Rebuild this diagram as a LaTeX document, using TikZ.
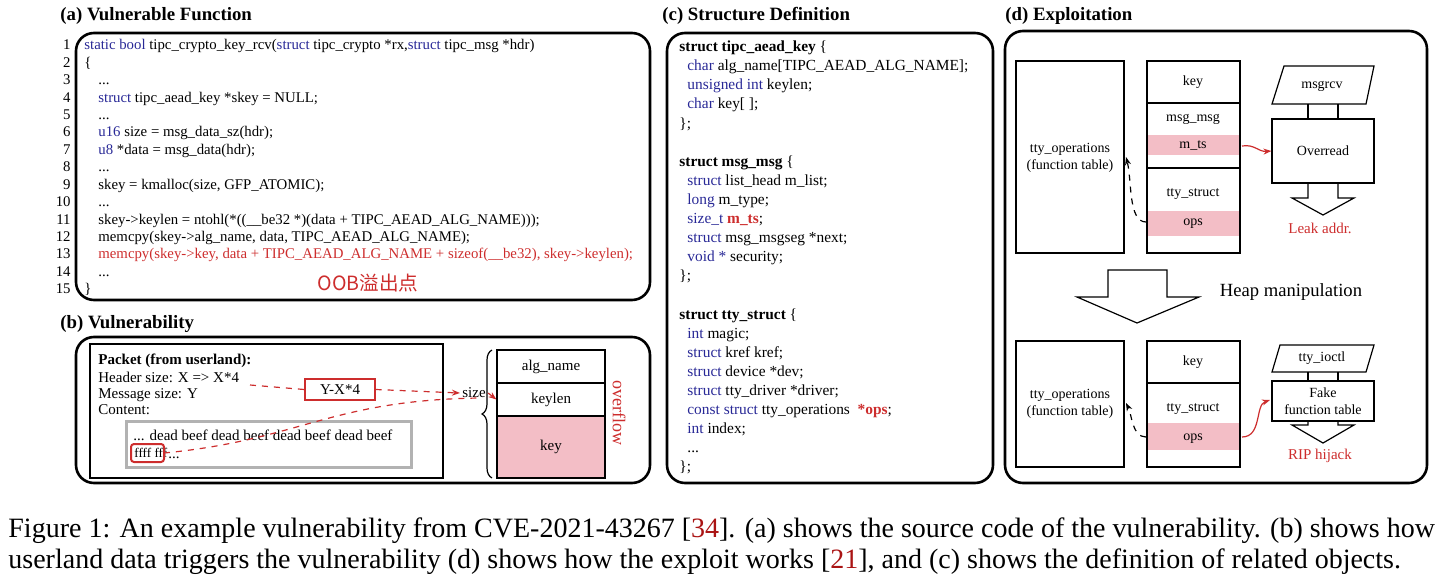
\documentclass[tikz,border=0pt]{standalone}
\usepackage{fontspec}
\setmainfont{Liberation Serif}
\newfontfamily\cjk{Noto Sans CJK SC}
\usetikzlibrary{arrows.meta,decorations.pathreplacing,shapes.geometric}
\definecolor{kwblue}{RGB}{40,40,150}
\definecolor{cred}{RGB}{205,45,45}
\definecolor{pinkf}{RGB}{243,190,198}
\definecolor{cite}{RGB}{170,20,20}
\newcommand\kw[1]{\textcolor{kwblue}{#1}}
\newcommand\us{\textunderscore}
\begin{document}
\begin{tikzpicture}[x=0.5pt,y=-0.5pt,
  panel/.style={draw,line width=1.3pt,rounded corners=9pt},
  ttl/.style={anchor=base west,font=\fontsize{9.4}{11}\selectfont\bfseries,inner sep=0},
  code/.style={anchor=base west,font=\fontsize{7.4}{8}\selectfont,inner sep=0},
  lno/.style={anchor=base east,font=\fontsize{7.4}{8}\selectfont,inner sep=0},
  sc/.style={anchor=base west,font=\fontsize{7.7}{9}\selectfont,inner sep=0},
  pt/.style={anchor=base west,font=\fontsize{7.5}{8}\selectfont,inner sep=0},
  dt/.style={font=\fontsize{7}{8.5}\selectfont,align=center,inner sep=0},
  bx/.style={draw,line width=0.6pt},
  rd/.style={draw=cred,dashed,line width=0.6pt},
  rarr/.style={draw=cred,line width=0.6pt,-{Stealth[length=4pt]}},
  karr/.style={draw,dashed,line width=0.6pt,-{Stealth[length=4pt]}},
  captxt/.style={anchor=base west,font=\fontsize{14}{16}\selectfont,inner sep=0}]
\useasboundingbox (0,0) rectangle (1440,583);
% ===== (a)
\node[ttl] (ta) at (60,21) {(a) Vulnerable Function};
\draw[panel] (76,33) rectangle (650,300);
\foreach \i in {1,...,15}{\node[lno] (n\i) at (71,{46+(\i-1)*17.4+4}) {\i};}
\node[code] (c1) at (84,50) {\kw{static bool} tipc\us crypto\us key\us rcv(\kw{struct} tipc\us crypto *rx,\kw{struct} tipc\us msg *hdr)};
\node[code] (c2) at (84,67.4) {\{};
\node[code] (c3) at (98,84.8) {...};
\node[code] (c4) at (98,102.2) {\kw{struct} tipc\us aead\us key *skey = NULL;};
\node[code] (c5) at (98,119.6) {...};
\node[code] (c6) at (98,137) {\kw{u16} size = msg\us data\us sz(hdr);};
\node[code] (c7) at (98,154.4) {\kw{u8} *data = msg\us data(hdr);};
\node[code] (c8) at (98,171.8) {...};
\node[code] (c9) at (98,189.2) {skey = kmalloc(size, GFP\us ATOMIC);};
\node[code] (c10) at (98,206.6) {...};
\node[code] (c11) at (98,224) {skey->keylen = ntohl(*((\us\us be32 *)(data + TIPC\us AEAD\us ALG\us NAME)));};
\node[code] (c12) at (98,241.4) {memcpy(skey->alg\us name, data, TIPC\us AEAD\us ALG\us NAME);};
\node[code,text=cred] (c13) at (98,258.8) {memcpy(skey->key, data + TIPC\us AEAD\us ALG\us NAME + sizeof(\us\us be32), skey->keylen);};
\node[code] (c14) at (98,276.2) {...};
\node[code] (c15) at (84,293.6) {\}};
\node[anchor=center,text=cred,font=\cjk\fontsize{9.8}{11}\selectfont,inner sep=0] (oob) at (368,283) {OOB溢出点};
% ===== (b)
\node[ttl] (tb) at (60,328) {(b) Vulnerability};
\draw[panel] (76,337) rectangle (650,483);
\draw[bx] (90,344) rectangle (443,478);
\node[pt,font=\fontsize{7.5}{8}\selectfont\bfseries] (pk) at (98,364) {Packet (from userland):};
\node[pt] (hs) at (98,382) {Header size: X => X*4};
\node[pt] (ms) at (98,398) {Message size: Y};
\node[pt] (ct) at (98,414) {Content:};
\draw[draw=black!30,line width=1.5pt] (126,421) rectangle (411,467);
\node[pt] (db) at (133,440) {... dead beef dead beef dead beef dead beef};
\node[pt,font=\fontsize{6.6}{8}\selectfont] (ff) at (134,457) {ffff fff};
\node[pt] (dd) at (168,458) {...};
\draw[draw=cred,line width=1pt,rounded corners=1.5pt] (131,444) rectangle (164,462);
\node[draw=cred,line width=0.7pt,minimum width=35pt,minimum height=10.5pt,inner sep=0,font=\fontsize{7.5}{8}\selectfont] (yx) at (340,389.5) {Y-X*4};
\coordinate (hsend) at (250,385);
\draw[rd] (hsend) -- (yx.west);
\node[inner sep=1pt,font=\fontsize{7.5}{8}\selectfont] (sz) at (474,393) {size};
\draw[rd,-{Stealth[length=4pt]}] (yx.east) -- (sz.west);
\draw[decorate,decoration={brace,amplitude=5pt},line width=0.6pt] (492,478) -- (492,350);
\node[bx,minimum width=54pt,minimum height=16.5pt,inner sep=0,font=\fontsize{7.5}{8}\selectfont] (an) at (551,366.5) {alg\us name};
\node[bx,minimum width=54pt,minimum height=16.5pt,inner sep=0,font=\fontsize{7.5}{8}\selectfont] (kl) at (551,399.5) {keylen};
\node[bx,fill=pinkf,minimum width=54pt,minimum height=31pt,inner sep=0,font=\fontsize{7.5}{8}\selectfont] (ky) at (551,447) {key};
\draw[rd,-{Stealth[length=4pt]}] (sz.east) -- (kl.west);
\draw[rd] (164,453) .. controls (300,440) and (330,400) .. (480,398);
\node[rotate=-90,text=cred,font=\fontsize{9}{10}\selectfont,inner sep=0] (of) at (619,413) {overflow};
% ===== (c)
\node[ttl] (tc) at (662,21) {(c) Structure Definition};
\draw[panel] (667,33) rectangle (993,483);
\node[sc] (s1) at (679,52) {\textbf{struct tipc\us aead\us key} \{};
\node[sc] (s2) at (687,71) {\kw{char} alg\us name[TIPC\us AEAD\us ALG\us NAME];};
\node[sc] (s3) at (687,90) {\kw{unsigned int} keylen;};
\node[sc] (s4) at (687,109) {\kw{char} key[ ];};
\node[sc] (s5) at (679,128) {\};};
\node[sc] (s6) at (679,166) {\textbf{struct msg\us msg} \{};
\node[sc] (s7) at (687,185) {\kw{struct} list\us head m\us list;};
\node[sc] (s8) at (687,204) {\kw{long} m\us type;};
\node[sc] (s9) at (687,223) {\kw{size\us t} \textcolor{cred}{\textbf{m\us ts}};};
\node[sc] (s10) at (687,242) {\kw{struct} msg\us msgseg *next;};
\node[sc] (s11) at (687,261) {\kw{void *} security;};
\node[sc] (s12) at (679,280) {\};};
\node[sc] (s13) at (679,319) {\textbf{struct tty\us struct} \{};
\node[sc] (s14) at (687,338) {\kw{int} magic;};
\node[sc] (s15) at (687,357) {\kw{struct} kref kref;};
\node[sc] (s16) at (687,376) {\kw{struct} device *dev;};
\node[sc] (s17) at (687,395) {\kw{struct} tty\us driver *driver;};
\node[sc] (s18) at (687,414) {\kw{const struct} tty\us operations \ \textcolor{cred}{\textbf{*ops}};};
\node[sc] (s19) at (687,433) {\kw{int} index;};
\node[sc] (s20) at (687,452) {...};
\node[sc] (s21) at (679,471) {\};};
% ===== (d)
\node[ttl] (td) at (1005,21) {(d) Exploitation};
\draw[panel] (1005,31) rectangle (1427,483);
% top
\draw[bx] (1016,61) rectangle (1124,253);
\node[dt] (to1) at (1070,158) {tty\us operations\\(function table)};
\draw[bx] (1147,61) rectangle (1240,253);
\draw[bx] (1147,103) -- (1240,103); \draw[bx] (1147,168) -- (1240,168);
\fill[pinkf] (1148,135) rectangle (1239,155);
\fill[pinkf] (1148,211) rectangle (1239,236);
\node[dt] (k1) at (1193,82) {key};
\node[dt] (mm) at (1193,119) {msg\us msg};
\node[dt] (mts) at (1193,145) {m\us ts};
\node[dt] (ts1) at (1193,194) {tty\us struct};
\node[dt] (op1) at (1193,224) {ops};
\draw[bx] (1272,104) -- (1284,66) -- (1374,66) -- (1366,104) -- cycle;
\node[dt] (mr) at (1322,86) {msgrcv};
\node[bx,minimum width=51pt,minimum height=32pt,inner sep=0,dt] (ovr) at (1323,151) {Overread};
\draw[bx] (1308,104) -- (1308,119) (1338,104) -- (1338,119);
\draw[bx] (1308,183) -- (1308,198) -- (1292,198) -- (1323,215) -- (1354,198) -- (1338,198) -- (1338,183);
\node[dt,text=cred,font=\fontsize{7.5}{9}\selectfont] (la) at (1320,228) {Leak addr.};
\draw[rarr] (1242,146) .. controls (1255,144) and (1258,152) .. (ovr.west);
\draw[karr] (1146,222) .. controls (1128,222) and (1132,180) .. (1126,157);
% big arrow
\draw[bx] (1108,270) -- (1167,270) -- (1167,297) -- (1199,297) -- (1137,323) -- (1077,297) -- (1108,297) -- cycle;
\node[dt,font=\fontsize{9.3}{10}\selectfont] (hm) at (1291,292) {Heap manipulation};
% bottom
\draw[bx] (1016,341) rectangle (1124,467);
\node[dt] (to2) at (1070,404) {tty\us operations\\(function table)};
\draw[bx] (1147,341) rectangle (1240,467);
\draw[bx] (1147,383) -- (1240,383);
\fill[pinkf] (1148,423) rectangle (1239,450);
\node[dt] (k2) at (1193,362) {key};
\node[dt] (ts2) at (1193,409) {tty\us struct};
\node[dt] (op2) at (1193,439) {ops};
\draw[bx] (1272,372) -- (1280,345) -- (1374,345) -- (1366,372) -- cycle;
\node[dt] (ti) at (1322,358) {tty\us ioctl};
\node[bx,minimum width=51pt,minimum height=20pt,inner sep=0,dt] (ft) at (1323,401) {Fake\\function table};
\draw[bx] (1308,372) -- (1308,381) (1338,372) -- (1338,381);
\draw[bx] (1308,421) -- (1308,425) -- (1292,425) -- (1323,443) -- (1354,425) -- (1338,425) -- (1338,421);
\node[dt,text=cred,font=\fontsize{7.5}{9}\selectfont] (rh) at (1320,456) {RIP hijack};
\draw[rarr] (1242,437) .. controls (1262,437) and (1255,405) .. (1270,400);
\draw[karr] (1146,437) .. controls (1132,437) and (1132,415) .. (1126,403);
% caption
\node[captxt] (cp1) at (8,537) {Figure 1: An example vulnerability from CVE-2021-43267 [\textcolor{cite}{34}]. (a) shows the source code of the vulnerability. (b) shows how};
\node[captxt] (cp2) at (8,568) {userland data triggers the vulnerability (d) shows how the exploit works [\textcolor{cite}{21}], and (c) shows the definition of related objects.};
\end{tikzpicture}
\end{document}
